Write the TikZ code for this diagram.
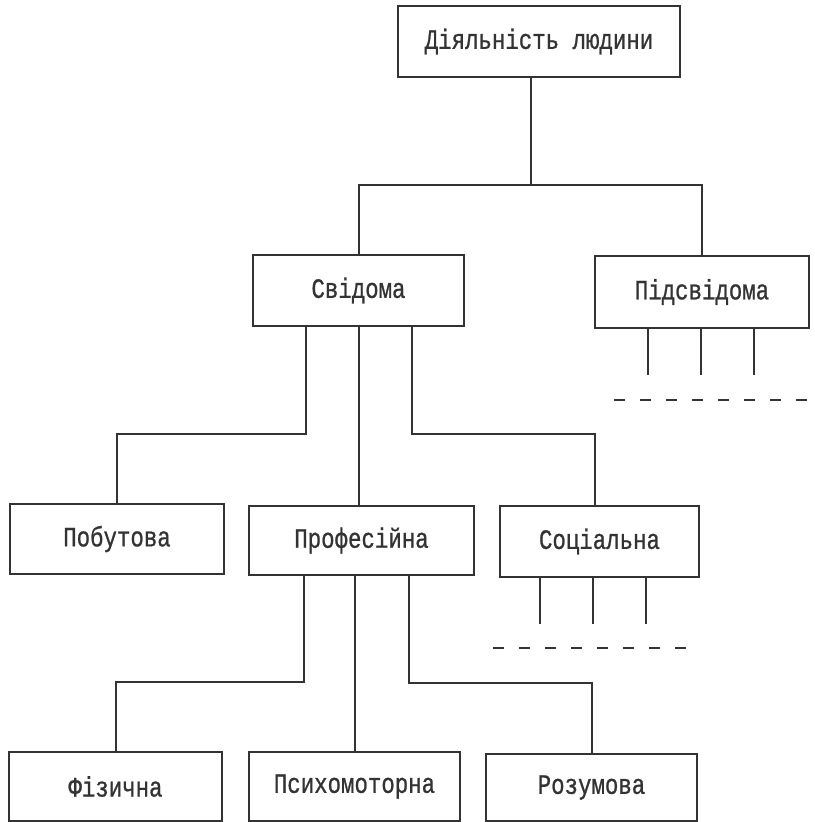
\documentclass[tikz,border=0pt]{standalone}
\usepackage{fontspec}
\newfontfamily\monofam[FakeStretch=0.8,FakeBold=0.8]{Liberation Mono}
\newcommand{\boxfont}{\monofam\fontsize{28}{32}\selectfont}
\definecolor{ink}{HTML}{333333}
\begin{document}
\begin{tikzpicture}[x=1pt,y=-1pt,
  box/.style={draw=ink, line width=2pt, rectangle, anchor=north west,
    inner sep=0pt, font=\boxfont, text=ink},
  conn/.style={draw=ink, line width=2pt},
  dashline/.style={draw=ink, line width=2.2pt, dash pattern=on 11pt off 15pt}]
\useasboundingbox[fill=white] (0,0) rectangle (814,822);
% nodes
\node[box, minimum width=282pt, minimum height=71pt] (top) at (397,5) {Діяльність людини};
\node[box, minimum width=211pt, minimum height=71pt] (svid) at (252,254) {Свідома};
\node[box, minimum width=214pt, minimum height=72pt] (pidsvid) at (594,255) {Підсвідома};
\node[box, minimum width=214pt, minimum height=70pt] (pobut) at (9,503) {Побутова};
\node[box, minimum width=225pt, minimum height=69pt] (prof) at (248,505) {Професійна};
\node[box, minimum width=199pt, minimum height=71pt] (soc) at (499,505) {Соціальна};
\node[box, minimum width=213pt, minimum height=69pt] (fiz) at (8,751) {Фізична};
\node[box, minimum width=211pt, minimum height=69pt] (psych) at (248,751) {Психомоторна};
\node[box, minimum width=211pt, minimum height=67pt] (rozum) at (485,753) {Розумова};
% level 1
\draw[conn] ([xshift=-8pt]top.south) -- ++(0,107) coordinate (j1);
\draw[conn] (svid.north) |- (j1) -| (pidsvid.north);
% from Svidoma
\draw[conn] ([xshift=-53pt]svid.south) -- ++(0,107) -| (pobut.north);
\draw[conn] (svid.south) -- (svid.south |- prof.north);
\draw[conn] ([xshift=53pt]svid.south) -- ++(0,107) -| ([xshift=-5pt]soc.north);
% from Pidsvidoma
\foreach \dx in {-54,-1,52}
  \draw[conn] ([xshift=\dx pt]pidsvid.south) -- ++(0,46);
\draw[dashline] ([xshift=20pt,yshift=-71pt]pidsvid.south west) -- ([xshift=6pt,yshift=-71pt]pidsvid.south east);
% from Profesiyna
\draw[conn] ([xshift=-58pt]prof.south) -- ++(0,106) -| (fiz.north);
\draw[conn] (psych.north |- prof.south) -- (psych.north);
\draw[conn] ([xshift=47pt]prof.south) -- ++(0,107) -| (rozum.north);
% from Sotsialna
\foreach \dx in {-60,-7,46}
  \draw[conn] ([xshift=\dx pt]soc.south) -- ++(0,46);
\draw[dashline] ([xshift=-6pt,yshift=-70pt]soc.south west) -- ([xshift=-8pt,yshift=-70pt]soc.south east);
\end{tikzpicture}
\end{document}
